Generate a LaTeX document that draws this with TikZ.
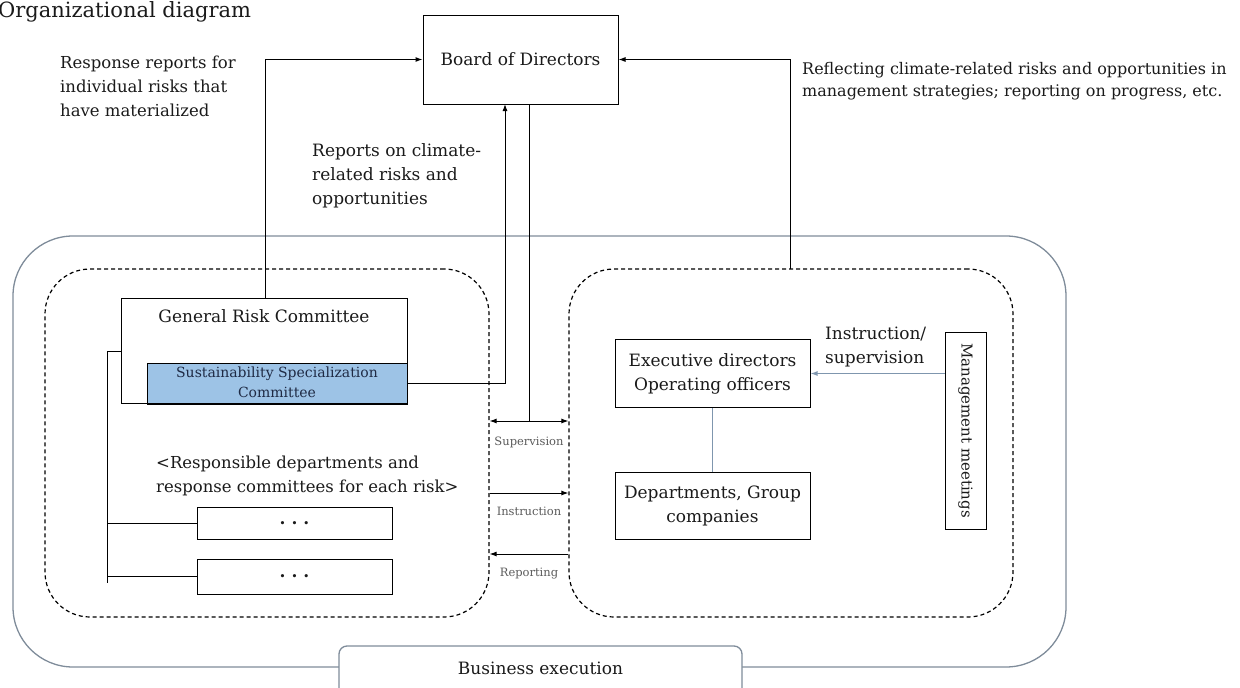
\documentclass[tikz,border=0pt]{standalone}
\usepackage{fontspec}
\setmainfont{DejaVu Serif}
\usetikzlibrary{arrows.meta,calc}
\definecolor{susblue}{HTML}{9DC3E6}
\definecolor{susink}{HTML}{1F2A44}
\definecolor{outerline}{HTML}{7F8C9A}
\definecolor{execline}{HTML}{7F96AE}
\definecolor{smallgray}{HTML}{5A5A5A}
\definecolor{ink}{HTML}{1A1A1A}
\begin{document}
\begin{tikzpicture}[x=1pt,y=-1pt,
  ft/.style={font=\fontsize{17}{24}\selectfont,text=ink},
  box/.style={draw=black,line width=1pt,fill=white,inner sep=0pt,ft},
  dashbox/.style={draw=black,line width=1.2pt,dash pattern=on 4pt off 3pt,rounded corners=45pt,inner sep=0pt},
  arr/.style={draw=black,line width=1pt,-{Latex[length=7pt,width=5pt]}},
  dbl/.style={draw=black,line width=1pt,{Latex[length=7pt,width=5pt]}-{Latex[length=7pt,width=5pt]}},
  plain/.style={draw=black,line width=1pt},
  small/.style={font=\fontsize{11.5}{14}\selectfont,text=smallgray,inner sep=0pt},
  lbl/.style={ft,align=left,inner sep=0pt}]
\useasboundingbox (0,0) rectangle (1240,688);
\clip (0,0) rectangle (1240,688);

% outer business execution frame
\node[draw=outerline,line width=1.3pt,rounded corners=60pt,minimum width=1053,minimum height=431,inner sep=0pt] (outer) at (539.5,451.5) {};
\node[draw=outerline,line width=1.3pt,fill=white,rounded corners=8pt,minimum width=403,minimum height=80,inner sep=0pt] (biz) at (540.5,686) {};
\node[ft,anchor=base] (biztxt) at (540.5,674) {Business execution};

% dashed groups
\node[dashbox,minimum width=444,minimum height=348] (ldash) at (267,443) {};
\node[dashbox,minimum width=444,minimum height=348] (rdash) at (791,443) {};

% title
\node[anchor=base west,inner sep=0pt,font=\fontsize{21}{24}\selectfont,text=ink] (title) at (-2,17) {Organizational diagram};

% board
\node[box,minimum width=195,minimum height=89] (board) at (520.5,59.5) {Board of Directors};

% general risk committee
\node[box,minimum width=286,minimum height=105] (grc) at (264,350.5) {};
\node[ft,anchor=base,inner sep=0pt] (grctxt) at (264,322) {General Risk Committee};
\node[draw=black,line width=1pt,fill=susblue,minimum width=260,minimum height=40,inner sep=0pt] (sus) at (277,383) {};
\draw[black,line width=2pt] (sus.south west) -- (sus.south east);
\node[anchor=base,align=center,inner sep=0pt,font=\fontsize{14}{20}\selectfont,text=susink] (sustxt) at (277,397) {Sustainability Specialization\\Committee};

% responsible departments
\node[lbl,anchor=base west,font=\fontsize{16.5}{24}\selectfont] (resp) at (156,492) {\textless Responsible departments and\\response committees for each risk\textgreater};
\node[box,minimum width=195,minimum height=32] (d1) at (294.5,523) {\textbf{.\hspace{6pt}.\hspace{6pt}.}};
\node[box,minimum width=195,minimum height=35] (d2) at (294.5,576.5) {\textbf{.\hspace{6pt}.\hspace{6pt}.}};
\coordinate (treetop) at (107,351);
\coordinate (treebot) at (107,583);
\draw[plain] (grc.west |- treetop) -- (treetop) -- (treebot);
\draw[plain] (d1.west) -- (d1.west -| treetop);
\draw[plain] (d2.west) -- (d2.west -| treetop);

% executive side
\node[box,align=center,minimum width=195,minimum height=68] (exe) at (712.5,373.5) {Executive directors\\Operating officers};
\node[box,align=center,minimum width=195,minimum height=67] (dep) at (712.5,506) {Departments, Group\\companies};
\node[box,minimum width=41,minimum height=197] (mm) at (965.5,430.5) {};
\node[ft,font=\fontsize{15}{18}\selectfont,rotate=-90,inner sep=0pt] (mmtxt) at (mm.center) {Management meetings};
\draw[execline,line width=1.2pt] (exe.south) -- (dep.north);
\draw[execline,line width=1.2pt,-{Latex[length=7pt,width=5pt]}] (mm.west |- exe.east) -- (exe.east);
\node[lbl,anchor=base west] (instsup) at (825,363) {Instruction/\\supervision};

% connectors to the board
\coordinate (grctop) at (265,298.5);
\draw[arr] (grctop) |- (board.west);
\coordinate (rtop) at (790,269);
\draw[arr] (rtop) |- (board.east);
\coordinate (bin) at (505,104);
\draw[arr] (sus.east) -| (bin);
\coordinate (bout) at (529,104);
\coordinate (supmid) at (529,421);
\draw[plain] (bout) -- (supmid);

% middle arrows
\draw[dbl] (ldash.east |- supmid) -- (rdash.west |- supmid);
\coordinate (instr) at (529,493);
\draw[arr] (ldash.east |- instr) -- (rdash.west |- instr);
\coordinate (rept) at (529,554);
\draw[arr] (rdash.west |- rept) -- (ldash.east |- rept);
\node[small,anchor=base] (suplbl) at (529,445) {Supervision};
\node[small,anchor=base] (inslbl) at (529,515) {Instruction};
\node[small,anchor=base] (replbl) at (529,576) {Reporting};

% text labels
\node[lbl,anchor=base west,font=\fontsize{16.5}{24}\selectfont] (resptxt) at (60,116) {Response reports for\\individual risks that\\have materialized};
\node[lbl,anchor=base west] (climtxt) at (312,204) {Reports on climate-\\related risks and\\opportunities};
\node[lbl,anchor=base west,font=\fontsize{16}{22}\selectfont] (refltxt) at (802,96) {Reflecting climate-related risks and opportunities in\\management strategies; reporting on progress, etc.};
\end{tikzpicture}
\end{document}
